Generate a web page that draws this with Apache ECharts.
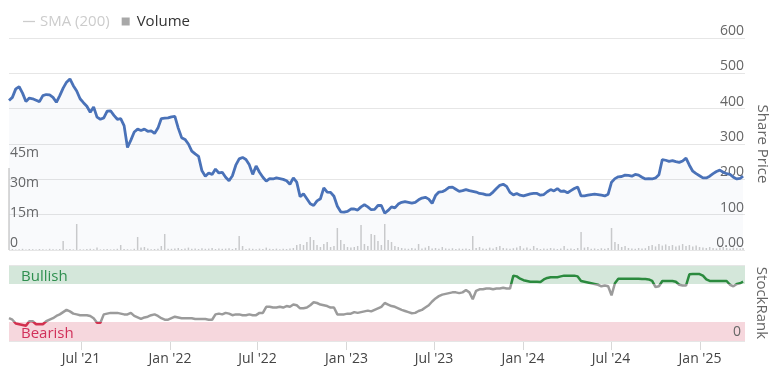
<!DOCTYPE html>
<html><head><meta charset="utf-8">
<script src="https://cdn.jsdelivr.net/npm/echarts@6/dist/echarts.min.js"></script>
<style>html,body{margin:0;padding:0;background:#fff}#c{width:770px;height:366px}</style>
</head><body><div id="c"></div>
<script>
const dates = [
'2021-02-02','2021-02-09','2021-02-16','2021-02-23','2021-03-02','2021-03-09','2021-03-16','2021-03-23','2021-03-30','2021-04-06',
'2021-04-13','2021-04-20','2021-04-27','2021-05-04','2021-05-11','2021-05-18','2021-05-25','2021-06-01','2021-06-08','2021-06-15',
'2021-06-22','2021-06-29','2021-07-06','2021-07-13','2021-07-20','2021-07-27','2021-08-03','2021-08-10','2021-08-17','2021-08-24',
'2021-08-31','2021-09-07','2021-09-14','2021-09-21','2021-09-28','2021-10-05','2021-10-12','2021-10-19','2021-10-26','2021-11-02',
'2021-11-09','2021-11-16','2021-11-23','2021-11-30','2021-12-07','2021-12-14','2021-12-21','2021-12-28','2022-01-04','2022-01-11',
'2022-01-18','2022-01-25','2022-02-01','2022-02-08','2022-02-15','2022-02-22','2022-03-01','2022-03-08','2022-03-15','2022-03-22',
'2022-03-29','2022-04-05','2022-04-12','2022-04-19','2022-04-26','2022-05-03','2022-05-10','2022-05-17','2022-05-24','2022-05-31',
'2022-06-07','2022-06-14','2022-06-21','2022-06-28','2022-07-05','2022-07-12','2022-07-19','2022-07-26','2022-08-02','2022-08-09',
'2022-08-16','2022-08-23','2022-08-30','2022-09-06','2022-09-13','2022-09-20','2022-09-27','2022-10-04','2022-10-11','2022-10-18',
'2022-10-25','2022-11-01','2022-11-08','2022-11-15','2022-11-22','2022-11-29','2022-12-06','2022-12-13','2022-12-20','2022-12-27',
'2023-01-03','2023-01-10','2023-01-17','2023-01-24','2023-01-31','2023-02-07','2023-02-14','2023-02-21','2023-02-28','2023-03-07',
'2023-03-14','2023-03-21','2023-03-28','2023-04-04','2023-04-11','2023-04-18','2023-04-25','2023-05-02','2023-05-09','2023-05-16',
'2023-05-23','2023-05-30','2023-06-06','2023-06-13','2023-06-20','2023-06-27','2023-07-04','2023-07-11','2023-07-18','2023-07-25',
'2023-08-01','2023-08-08','2023-08-15','2023-08-22','2023-08-29','2023-09-05','2023-09-12','2023-09-19','2023-09-26','2023-10-03',
'2023-10-10','2023-10-17','2023-10-24','2023-10-31','2023-11-07','2023-11-14','2023-11-21','2023-11-28','2023-12-05','2023-12-12',
'2023-12-19','2023-12-26','2024-01-02','2024-01-09','2024-01-16','2024-01-23','2024-01-30','2024-02-06','2024-02-13','2024-02-20',
'2024-02-27','2024-03-05','2024-03-12','2024-03-19','2024-03-26','2024-04-02','2024-04-09','2024-04-16','2024-04-23','2024-04-30',
'2024-05-07','2024-05-14','2024-05-21','2024-05-28','2024-06-04','2024-06-11','2024-06-18','2024-06-25','2024-07-02','2024-07-09',
'2024-07-16','2024-07-23','2024-07-30','2024-08-06','2024-08-13','2024-08-20','2024-08-27','2024-09-03','2024-09-10','2024-09-17',
'2024-09-24','2024-10-01','2024-10-08','2024-10-15','2024-10-22','2024-10-29','2024-11-05','2024-11-12','2024-11-19','2024-11-26',
'2024-12-03','2024-12-10','2024-12-17','2024-12-24','2024-12-31','2025-01-07','2025-01-14','2025-01-21','2025-01-28','2025-02-04',
'2025-02-11','2025-02-18','2025-02-25','2025-03-04','2025-03-11','2025-03-18','2025-03-25','2025-03-31'
];
const sharePrice = [
423,432,456,462,444,420,430,428,424,420,
437,440,439,432,418,437,458,475,484,465,
450,428,417,407,390,405,376,370,374,393,
394,381,370,372,352,290,311,334,342,338,
342,336,337,330,345,372,373,374,377,378,
345,318,313,300,280,272,265,224,209,218,
214,229,218,220,206,196,210,240,258,262,
256,241,214,238,220,206,195,202,201,204,
202,200,196,186,204,192,151,159,145,131,
126,139,145,176,164,163,152,124,108,107,
109,116,116,113,122,128,122,114,115,126,
126,104,112,122,119,130,135,137,135,133,
135,142,147,149,144,132,154,164,165,170,
177,178,172,166,168,171,168,166,164,160,
159,156,156,164,174,183,186,180,163,156,
160,155,153,156,159,160,160,155,157,165,
171,167,174,166,167,162,168,174,178,153,
153,155,157,158,157,155,153,158,192,202,
207,208,212,211,209,214,212,206,201,202,
201,204,213,256,254,251,253,250,248,252,
260,240,223,216,210,204,204,209,216,222,
226,220,216,214,206,201,203,209
];
const volumeM = [
41,0.5,0.3,0.4,0.6,0.3,0.5,0.4,0.3,0.5,
0.4,0.3,0.6,0.4,0.3,0.5,4.5,0.4,0.5,0.3,
13,0.4,0.3,0.5,0.6,0.4,1.2,0.3,0.4,0.5,
0.3,0.4,0.6,2.5,0.5,0.4,0.3,0.6,6.5,1.2,
1.5,0.8,0.4,0.5,0.6,2,8,0.6,0.6,0.8,
1.0,0.5,0.7,1.2,0.6,0.8,0.5,0.9,0.6,0.7,
1.0,0.5,0.8,0.6,0.7,0.9,0.5,1.0,7,2,
0.5,0.8,0.6,0.4,0.7,0.5,1.2,0.6,0.5,0.7,
0.4,0.6,0.5,0.8,1.0,2.5,3,2.5,4,6.5,
5,2.5,1.5,3,4,1.5,2,11,5,3,
1.5,1.2,1.5,2,12.5,3,2,8,7.5,4.5,
2.5,13,5,4,2,1.5,1.0,0.8,0.6,1.0,
0.7,3,0.8,1.2,2,0.8,1.0,0.6,1.5,0.8,
0.6,0.9,0.5,0.8,0.6,0.7,0.5,7,1.0,1.5,
0.8,0.6,1.2,0.8,1.5,2,1.0,0.8,0.6,0.9,
1.2,2,0.8,1.2,0.6,2,1.0,0.5,0.8,0.6,
1.0,0.7,0.5,0.8,2,0.6,0.8,0.5,1.0,9,
1.2,1.5,0.6,0.8,0.5,0.9,0.6,1.0,11,4,
3,1.5,2,1.0,0.8,0.6,1.0,0.7,0.9,2,
2.5,1.8,3,2.2,2.8,2,2.5,1.8,2.2,3,
2,2.5,1.8,2.2,1.5,1.2,1.0,1.5,1.0,0.8,
1.2,1.5,1.0,0.8,1.2,1.0,0.8,1.0
];
const stockRank = [
30,28,23,22,21,20,26,26,22,22,
22,26,28,30,33,35,38,41,39,36,
35,34,34,34,33,30,24,24,35,36,
37,37,37,36,35,35,37,33,31,29,
31,32,34,35,33,30,28,28,30,32,
31,30,30,30,30,29,29,29,29,28,
28,35,36,35,37,36,34,35,35,34,
34,35,34,34,37,37,45,45,44,44,
45,44,46,45,48,47,43,43,44,47,
51,50,48,47,46,44,44,35,35,35,
36,36,38,37,38,39,40,39,41,43,
45,50,48,46,45,43,41,39.5,38,36.5,
37,39.5,41,44,47,52,56,59,61,62,
63,64,64,63,64,67,64,55,66,68,
68,69,69,68,69,69,70,69,69,86,
85,82,80,79,78,78,78,77.6,81,83,
84,84,84,85,86,86,86,86,85,79,
78,77,76,75,74,72,73,72,60,76,
82,82,82,82,82,82,82,81.6,81.6,81,
79,71,72,79,79,79,79,78,74,73,
73,87.7,88,88,88,86,81,79,79,79,
79,79,79,74,72,75,76,78
];
const tickDates = ['2021-07-01','2022-01-01','2022-07-01','2023-01-01','2023-07-01','2024-01-01','2024-07-01','2025-01-01'];
const tickLabels = ["Jul '21","Jan '22","Jul '22","Jan '23","Jul '23","Jan '24","Jul '24","Jan '25"];
const priceTicks = [0,100,200,300,400,500,600];
const volumeTicks = [0,15,30,45];

function t(s){const p=s.split('-').map(Number);return Date.UTC(p[0],p[1]-1,p[2]);}
const tickTimes = tickDates.map(t);
const xMin = t('2021-02-02'), xMax = t('2025-04-04');
const FONT = 'Open Sans';

const chart = echarts.init(document.getElementById('c'));
const hiddenX = (gi)=>({type:'value',gridIndex:gi,min:xMin,max:xMax,show:false,splitLine:{show:false}});
chart.setOption({
  animation:false,
  textStyle:{fontFamily:FONT},
  legend:{
    left:18, top:9, itemWidth:12, itemHeight:8, itemGap:12,
    textStyle:{color:'#333',fontSize:15,fontFamily:FONT},
    inactiveColor:'#ccc',
    selected:{'SMA (200)':false},
    data:[
      {name:'SMA (200)',icon:'path://M0,0H12V1.3H0Z'},
      {name:'Volume',icon:'path://M0,0H7V7H0Z',itemStyle:{color:'#a8a8a8'}}
    ]
  },
  grid:[
    {left:9,top:38,width:736,height:212,outerBoundsMode:'none',containLabel:false},
    {left:9,top:160,width:736,height:90,outerBoundsMode:'none',containLabel:false},
    {left:9,top:265,width:736,height:76,outerBoundsMode:'none',containLabel:false}
  ],
  xAxis:[
    hiddenX(0), hiddenX(1),
    {type:'value',gridIndex:2,min:xMin,max:xMax,
     axisLine:{show:false},splitLine:{show:false},
     axisTick:{show:true,customValues:tickTimes,length:9,lineStyle:{color:'#d8d8d8'}},
     axisLabel:{customValues:tickTimes,color:'#444',fontSize:14,fontFamily:FONT,margin:11,
       formatter:(v)=>{const i=tickTimes.indexOf(v);return i>=0?tickLabels[i]:'';}}}
  ],
  yAxis:[
    {type:'value',gridIndex:0,position:'right',min:priceTicks[0],max:priceTicks[priceTicks.length-1],interval:100,
     axisLine:{show:false},axisTick:{show:false},
     splitLine:{lineStyle:{color:'#e6e6e6'}},
     axisLabel:{inside:true,margin:1,verticalAlign:'bottom',color:'#666',fontSize:14,fontFamily:FONT,
       formatter:(v)=>v===0?'0.00':String(v)},
     name:'Share Price',nameLocation:'middle',nameRotate:-90,nameGap:8,
     nameTextStyle:{color:'#666',fontSize:15,fontFamily:FONT}},
    {type:'value',gridIndex:1,position:'left',min:volumeTicks[0],max:volumeTicks[volumeTicks.length-1],interval:15,
     axisLine:{show:false},axisTick:{show:false},splitLine:{show:false},
     axisLabel:{inside:true,margin:1,verticalAlign:'bottom',color:'#666',fontSize:14,fontFamily:FONT,
       formatter:(v)=>v===0?'0':v+'m'}},
    {type:'value',gridIndex:2,position:'right',min:0,max:100,interval:100,z:5,
     axisLine:{show:false},axisTick:{show:false},
     splitLine:{lineStyle:{color:'#e6e6e6'}},
     axisLabel:{inside:true,margin:4,verticalAlign:'bottom',padding:[0,0,2,0],color:'#666',fontSize:14,fontFamily:FONT,
       formatter:(v)=>v===0?'0':''},
     name:'StockRank',nameLocation:'middle',nameRotate:-90,nameGap:8,
     nameTextStyle:{color:'#666',fontSize:15,fontFamily:FONT}}
  ],
  visualMap:{type:'piecewise',show:false,seriesIndex:3,dimension:1,
    pieces:[{lt:25,color:'#d2314f'},{gte:25,lt:75,color:'#9b9b9b'},{gte:75,color:'#2b8a3e'}]},
  series:[
    {name:'SMA (200)',type:'line',xAxisIndex:0,yAxisIndex:0,data:[],showSymbol:false,
     lineStyle:{color:'#aaa',width:1},itemStyle:{color:'#aaa'}},
    {name:'Share Price',type:'line',xAxisIndex:0,yAxisIndex:0,showSymbol:false,z:4,
     data:dates.map((d,i)=>[t(d),sharePrice[i]]),
     lineStyle:{color:'#4a72b8',width:2.8},itemStyle:{color:'#4a72b8'},
     areaStyle:{color:'rgba(74,114,184,0.05)'}},
    {name:'Volume',type:'bar',xAxisIndex:1,yAxisIndex:1,barWidth:1.5,z:3,
     data:dates.map((d,i)=>[t(d),volumeM[i]]),
     itemStyle:{color:'#cdcdcd'}},
    {name:'StockRank',type:'line',xAxisIndex:2,yAxisIndex:2,showSymbol:false,z:4,
     data:dates.map((d,i)=>[t(d),stockRank[i]]),
     lineStyle:{width:2.5}},
    {name:'bands',type:'line',xAxisIndex:2,yAxisIndex:2,data:[],z:1,
     markArea:{silent:true,
       data:[
         [{yAxis:75,itemStyle:{color:'#d4e7da'},label:{show:true,formatter:'Bullish',position:'insideLeft',distance:12,offset:[0,2],color:'#2f8f4f',fontSize:15,fontFamily:FONT}},{yAxis:100}],
         [{yAxis:0,itemStyle:{color:'#f6d7dd'},label:{show:true,formatter:'Bearish',position:'insideLeft',distance:12,offset:[0,2],color:'#d1305a',fontSize:15,fontFamily:FONT}},{yAxis:25}]
       ]}}
  ]
});
</script></body></html>
